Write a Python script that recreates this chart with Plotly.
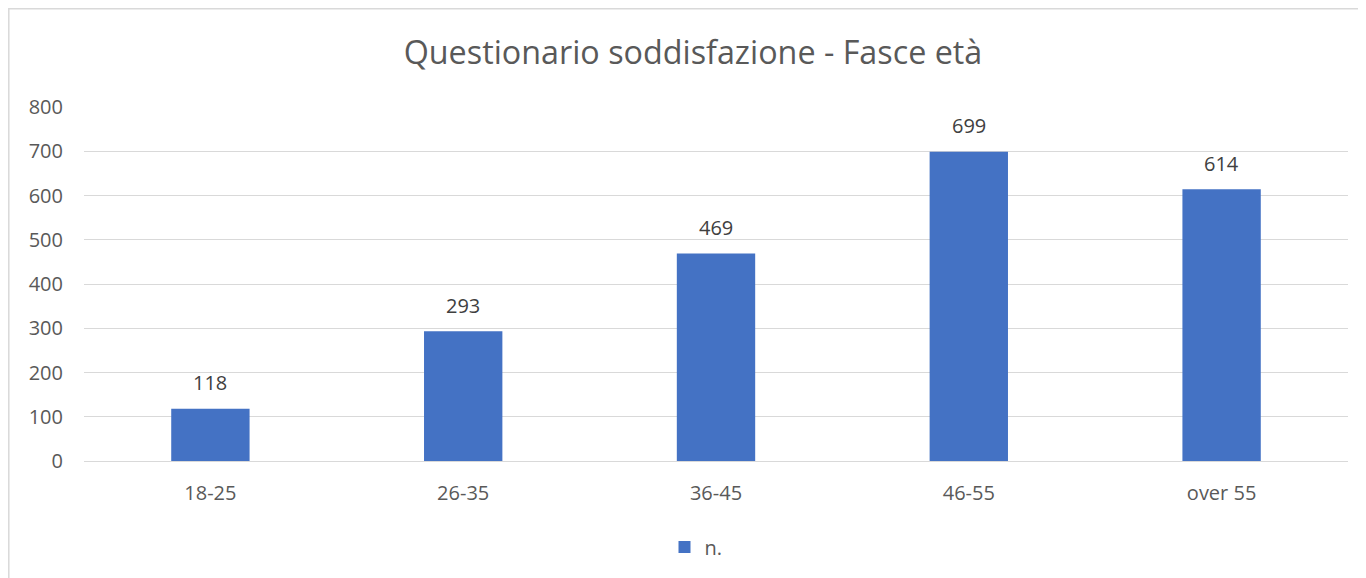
import plotly.graph_objects as go

fasce = ['18-25', '26-35', '36-45', '46-55', 'over 55']
valori = [118, 293, 469, 699, 614]
y_ticks = [0, 100, 200, 300, 400, 500, 600, 700, 800]

# la pagina html ha 8px di margine: il grafico parte da (8, 8)
W, H = 1358, 570
ml, mr, mt, mb = 76, 18, 99, 117
pw, ph = W - ml - mr, H - mt - mb

fig = go.Figure()
fig.add_trace(go.Bar(x=fasce, y=valori, name='n.', marker=dict(color='#4472C4', line=dict(width=0)),
                     showlegend=True))

# etichette sopra le barre
for f, v in zip(fasce, valori):
    fig.add_annotation(x=f, y=v, text=str(v), showarrow=False, yshift=26,
                       font=dict(size=20, color='#404040'))

# bordo del grafico
fig.add_shape(type='rect', xref='paper', yref='paper',
              x0=(0.8 - ml) / pw, x1=(W + 20 - ml) / pw,
              y0=-(H + 20 - mt - ph) / ph, y1=(H - mb - 0.8) / ph,
              line=dict(color='#d9d9d9', width=1.5), fillcolor='rgba(0,0,0,0)', layer='below')

fig.update_layout(
    width=W, height=H,
    margin=dict(l=ml, r=mr, t=mt, b=mb),
    plot_bgcolor='white', paper_bgcolor='white',
    font=dict(family='Open Sans', color='#595959'),
    title=dict(text='Questionario soddisfazione - Fasce età', x=(685 - ml) / pw, xref='paper',
               xanchor='center', y=1 - 45 / H, yanchor='middle', font=dict(size=32.3, color='#595959')),
    bargap=0.69,
    legend=dict(orientation='h', x=(688 - ml) / pw, xanchor='center', y=-(539 - mt - ph) / ph,
                yanchor='middle', font=dict(size=20, color='#595959')),
)
fig.update_xaxes(showgrid=False, ticks='', ticklabelstandoff=18, tickfont=dict(size=20, color='#595959'),
                 showline=False)
fig.update_yaxes(range=[0, 800], tickvals=y_ticks, showgrid=True, gridcolor='#d9d9d9', gridwidth=1.3,
                 zeroline=True, zerolinecolor='#d9d9d9', zerolinewidth=1.3, ticklabelstandoff=20,
                 tickfont=dict(size=20, color='#595959'), showline=False)

fig.write_html('out.html')
